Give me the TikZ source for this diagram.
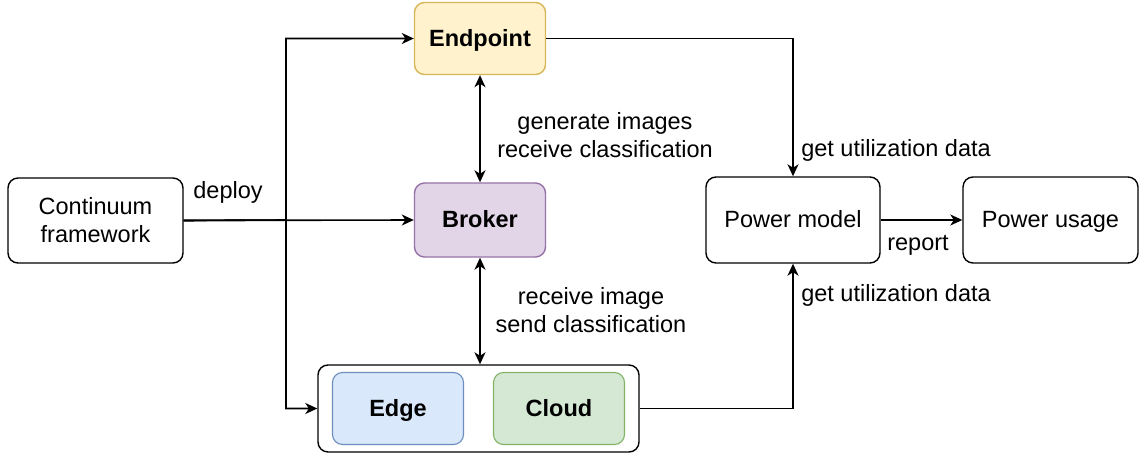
\documentclass[tikz,border=0pt]{standalone}
\usepackage{fontspec}
\setmainfont{Liberation Sans}
\usetikzlibrary{arrows.meta}

\definecolor{endfill}{HTML}{FFF2CC}
\definecolor{enddraw}{HTML}{D6B656}
\definecolor{brkfill}{HTML}{E1D5E7}
\definecolor{brkdraw}{HTML}{9673A6}
\definecolor{edgefill}{HTML}{DAE8FC}
\definecolor{edgedraw}{HTML}{6C8EBF}
\definecolor{cldfill}{HTML}{D5E8D4}
\definecolor{clddraw}{HTML}{82B366}

\tikzset{
  txt/.style={font=\fontsize{23.5}{28}\selectfont, align=center},
  box/.style={txt, draw=black, fill=white, rounded corners=10pt, line width=1.4pt,
              inner sep=0pt},
  oneline/.style={text height=18pt, text depth=2.5pt},
  boldbox/.style={box, oneline, font=\fontsize{23.5}{28}\selectfont\bfseries,
              minimum width=131pt, minimum height=72pt},
  arr/.style={line width=1.6pt, -{Stealth[length=12pt,width=11pt,inset=3.5pt]}},
  arrboth/.style={line width=1.6pt, {Stealth[length=12pt,width=11pt,inset=3.5pt]}-{Stealth[length=12pt,width=11pt,inset=3.5pt]}},
  lbl/.style={txt, inner sep=0pt}
}

\begin{document}
\begin{tikzpicture}[x=1pt,y=-1pt]
\useasboundingbox (0,0) rectangle (1140,457);

% components
\node[box, minimum width=175pt, minimum height=85pt] (cont) at (95.5,220.5) {Continuum\\framework};
\node[boldbox, draw=enddraw, fill=endfill] (endpoint) at (480,38.5) {Endpoint};
\node[boldbox, draw=brkdraw, fill=brkfill, minimum height=74pt] (broker) at (480,220) {Broker};
\node[box, minimum width=321pt, minimum height=87pt] (group) at (478.5,408.5) {};
\node[boldbox, draw=edgedraw, fill=edgefill, line width=1.1pt] (edge) at (398,408.5) {Edge};
\node[boldbox, draw=clddraw, fill=cldfill, line width=1.1pt] (cloud) at (559,408.5) {Cloud};
\node[box, oneline, minimum width=174pt, minimum height=86pt] (pm) at (793,220) {Power model};
\node[box, oneline, minimum width=175pt, minimum height=86pt] (pu) at (1050.5,220) {Power usage};

% deployment
\coordinate (split) at (286,220);
\draw[arr] (cont.east) -- (broker.west);
\draw[arr] (cont.east) -- (split) |- (endpoint.west);
\draw[arr] (cont.east) -- (split) |- (group.west);
\node[lbl] at (228,192) {deploy};

% broker traffic
\draw[arrboth] (endpoint.south) -- (broker.north);
\draw[arrboth] (broker.south) -- (broker.south |- group.north);
\node[lbl] at (605,135.5) {generate images\\receive classification};
\node[lbl] at (591,310) {receive image\\send classification};

% power measurement
\draw[arr] (endpoint.east) -| (pm.north);
\draw[arr] (group.east) -| (pm.south);
\draw[arr] (pm.east) -- (pu.west);
\node[lbl] at (896,150.5) {get utilization data};
\node[lbl] at (896,295.5) {get utilization data};
\node[lbl] at (918,245.5) {report};
\end{tikzpicture}
\end{document}
